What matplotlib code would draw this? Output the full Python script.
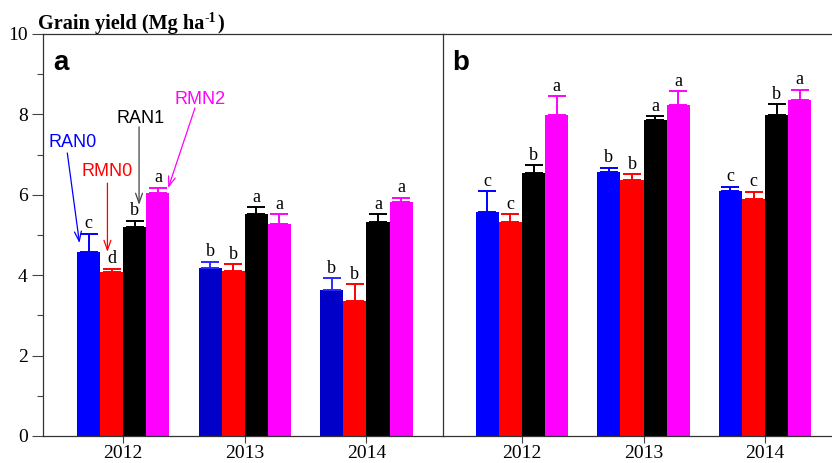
import matplotlib
matplotlib.use("Agg")
import matplotlib.pyplot as plt
import numpy as np
from matplotlib.ticker import MultipleLocator
from matplotlib.transforms import offset_copy

years = ["2012", "2013", "2014"]
treatments = ["RAN0", "RMN0", "RAN1", "RMN2"]

# panel a
a_means = {
    "RAN0": [4.58, 4.19, 3.63],
    "RMN0": [4.07, 4.10, 3.35],
    "RAN1": [5.19, 5.51, 5.32],
    "RMN2": [6.04, 5.27, 5.83],
}
a_errs = {
    "RAN0": [0.45, 0.15, 0.30],
    "RMN0": [0.09, 0.17, 0.43],
    "RAN1": [0.17, 0.18, 0.19],
    "RMN2": [0.14, 0.25, 0.10],
}
a_letters = {
    "RAN0": ["c", "b", "b"],
    "RMN0": ["d", "b", "b"],
    "RAN1": ["b", "a", "a"],
    "RMN2": ["a", "a", "a"],
}

# panel b
b_means = {
    "RAN0": [5.57, 6.57, 6.10],
    "RMN0": [5.33, 6.36, 5.89],
    "RAN1": [6.55, 7.86, 7.99],
    "RMN2": [7.99, 8.23, 8.35],
}
b_errs = {
    "RAN0": [0.52, 0.10, 0.10],
    "RMN0": [0.18, 0.15, 0.19],
    "RAN1": [0.19, 0.10, 0.26],
    "RMN2": [0.46, 0.34, 0.26],
}
b_letters = {
    "RAN0": ["c", "b", "c"],
    "RMN0": ["c", "b", "c"],
    "RAN1": ["b", "a", "b"],
    "RMN2": ["a", "a", "a"],
}

colors = {"RAN0": "#0000ff", "RMN0": "#ff0000", "RAN1": "#000000", "RMN2": "#ff00ff"}
# the blue bars of 2013 and 2014 in panel a are a darker blue
a_blue = ["#0000ff", "#0000c8", "#0000c8"]

plt.rcParams["font.family"] = "Liberation Serif"

fig = plt.figure(figsize=(8.32, 4.63), dpi=100)
W, H = 832, 463
ax1 = fig.add_axes([43 / W, 27 / H, 400 / W, 402 / H])
ax2 = fig.add_axes([443 / W, 27 / H, 389 / W, 402 / H])

x = np.arange(len(years))
width = 0.19
offsets = [-1.5, -0.5, 0.5, 1.5]


def draw_panel(ax, means, errs, letters, blue_override=None):
    for i, t in enumerate(treatments):
        pos = x + offsets[i] * width
        if t == "RAN0" and blue_override is not None:
            col = blue_override
            ecol = ["#0000ff" if c == "#0000ff" else "#2a2aff" for c in blue_override]
        else:
            col = [colors[t]] * len(years)
            ecol = col
        ax.bar(pos, means[t], width, color=col, linewidth=0)
        for j in range(len(years)):
            ax.errorbar(pos[j], means[t][j], yerr=[[0], [errs[t][j]]],
                        fmt="none", ecolor=ecol[j], elinewidth=1.4,
                        capsize=6.5, capthick=1.4)
            ax.annotate(letters[t][j], (pos[j], means[t][j] + errs[t][j]),
                        xytext=(0, 1), textcoords="offset points",
                        ha="center", va="bottom", fontsize=13)
    ax.set_ylim(0, 10)
    ax.set_xticks(x)
    ax.set_xticklabels(years, fontsize=14)
    ax.tick_params(axis="x", direction="out", length=5, width=0.8,
                   color="#444444", pad=1.5)
    for s in ax.spines.values():
        s.set_linewidth(0.9)
        s.set_color("#333333")
    ax.spines["right"].set_visible(False)


draw_panel(ax1, a_means, a_errs, a_letters, blue_override=a_blue)
draw_panel(ax2, b_means, b_errs, b_letters)

ax1.set_xlim(-0.66, 2.63)
ax2.set_xlim(-0.65, 2.55)

ax1.yaxis.set_major_locator(MultipleLocator(2))
ax1.yaxis.set_minor_locator(MultipleLocator(1))
ax1.tick_params(axis="y", which="major", direction="out", length=8,
                width=0.8, color="#444444", labelsize=14, pad=3)
ax1.tick_params(axis="y", which="minor", direction="out", length=4,
                width=0.8, color="#444444")
ax2.tick_params(axis="y", which="both", left=False, labelleft=False)

# panel letters
ax1.text(0.025, 0.96, "a", transform=ax1.transAxes, fontsize=20,
         fontweight="bold", family="Liberation Sans", va="top", ha="left")
ax2.text(0.025, 0.96, "b", transform=ax2.transAxes, fontsize=20,
         fontweight="bold", family="Liberation Sans", va="top", ha="left")

# y label as title above the axis, built in pieces for the superscript
fig.canvas.draw()
renderer = fig.canvas.get_renderer()
t1 = fig.text(38 / W, 1 - 29 / H, "Grain yield (Mg ha", fontsize=14.6,
              fontweight="bold", ha="left", va="baseline")
w1 = t1.get_window_extent(renderer).width
t2 = fig.text(38 / W, 1 - 29 / H, "-1",
              transform=offset_copy(fig.transFigure, fig=fig, x=w1 + 0.5, y=6.5, units="dots"),
              fontsize=10, fontweight="bold", ha="left", va="baseline")
w2 = t2.get_window_extent(renderer).width
fig.text(38 / W, 1 - 29 / H, ")",
         transform=offset_copy(fig.transFigure, fig=fig, x=w1 + w2 + 1, y=0, units="dots"),
         fontsize=14.6, fontweight="bold", ha="left", va="baseline")

# legend callouts in panel a
callouts = [
    ("RAN0", "#0000ff", (-0.42, 7.31), (-0.46, 7.04), (-0.36, 4.80)),
    ("RMN0", "#ff0000", (-0.13, 6.57), (-0.13, 6.29), (-0.13, 4.58)),
    ("RAN1", "#000000", (0.14, 7.91), (0.13, 7.69), (0.13, 5.75)),
    ("RMN2", "#ff00ff", (0.63, 8.36), (0.59, 8.16), (0.37, 6.17)),
]
for label, col, tpos, start, tip in callouts:
    ax1.text(tpos[0], tpos[1], label, color=col, fontsize=13,
             family="Liberation Sans", ha="center", va="center")
    arrow_col = "#444444" if col == "#000000" else col
    ax1.annotate("", xy=tip, xytext=start,
                 arrowprops=dict(arrowstyle="->,head_length=0.7,head_width=0.25",
                                 color=arrow_col, lw=0.9,
                                 shrinkA=0, shrinkB=0))

fig.savefig("out.png", dpi=100)
